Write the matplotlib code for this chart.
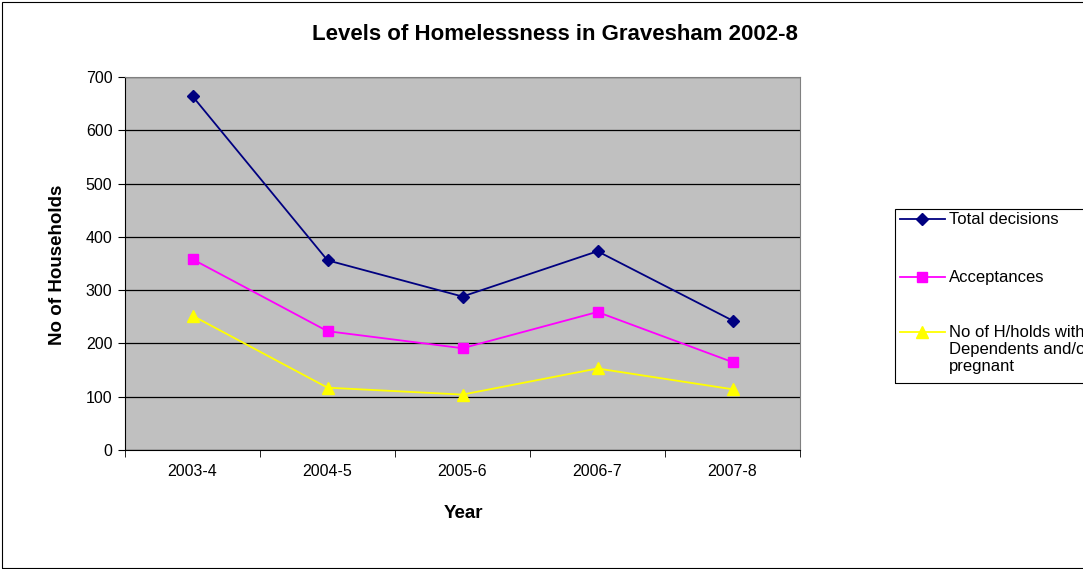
import matplotlib.pyplot as plt
from matplotlib.patches import Rectangle
from matplotlib.lines import Line2D

years = ["2003-4", "2004-5", "2005-6", "2006-7", "2007-8"]
total = [664, 356, 288, 373, 243]
accept = [358, 223, 191, 259, 165]
dependents = [252, 117, 104, 153, 114]
labels = ["Total decisions", "Acceptances", "No of H/holds with\nDependents and/or\npregnant"]

plt.rcParams['font.family'] = ['Liberation Sans', 'DejaVu Sans']

W, H = 1083, 569
fig = plt.figure(figsize=(W / 100, H / 100), dpi=100)


def fx(px):
    return px / W


def fy(py):
    return 1 - py / H


fig.patches.append(Rectangle((0.002, 0.002), 1.2, 0.995, transform=fig.transFigure,
                             fill=False, edgecolor='black', linewidth=0.8))
ax = fig.add_axes([fx(125), fy(450), fx(800) - fx(125), fy(77) - fy(450)])
ax.set_facecolor('#c0c0c0')

x = list(range(len(years)))
styles = [dict(color='#000080', marker='D', markersize=6.5),
          dict(color='#ff00ff', marker='s', markersize=7),
          dict(color='#ffff00', marker='^', markersize=8.5)]
for vals, st in zip([total, accept, dependents], styles):
    ax.plot(x, vals, linewidth=1.3, **st)

ax.set_xlim(-0.5, 4.5)
ax.set_ylim(0, 700)
ax.set_yticks(range(0, 701, 100))
ax.set_xticks(x)
ax.set_xticklabels(years)
ax.set_xticks([i - 0.5 for i in range(6)], minor=True)
ax.tick_params(axis='x', which='major', length=0, pad=10, labelsize=11.5)
ax.tick_params(axis='x', which='minor', length=5, direction='out')
ax.tick_params(axis='y', length=5, direction='out', labelsize=11.5, pad=4)
ax.grid(axis='y', color='black', linewidth=0.9)
ax.set_axisbelow(True)
for s in ['top', 'right']:
    ax.spines[s].set_color('#808080')
for s in ['left', 'bottom']:
    ax.spines[s].set_color('black')

fig.text(fx(463), fy(513), 'Year', ha='center', va='center', fontsize=13.5, fontweight='bold')
fig.text(fx(58), fy(265), 'No of Households', ha='center', va='center', rotation=90,
         fontsize=13.5, fontweight='bold')
fig.text(fx(555), fy(35), 'Levels of Homelessness in Gravesham 2002-8', ha='center', va='center',
         fontsize=16, fontweight='bold')

# legend drawn by hand so the marker sits on the first line of the long label
fig.patches.append(Rectangle((fx(895), fy(383)), 0.3, fy(209) - fy(383), transform=fig.transFigure,
                             fill=False, edgecolor='black', linewidth=0.8))
rows = [219, 277, 332]
for lab, st, ry in zip(labels, styles, rows):
    fig.lines.append(Line2D([fx(900), fx(945)], [fy(ry), fy(ry)], transform=fig.transFigure,
                            color=st['color'], linewidth=1.3))
    fig.lines.append(Line2D([fx(922)], [fy(ry)], transform=fig.transFigure, linestyle='none', **st))
    fig.text(fx(949), fy(ry - 7), lab, ha='left', va='top', fontsize=12, linespacing=1.15)

plt.savefig('out.png', dpi=100)
